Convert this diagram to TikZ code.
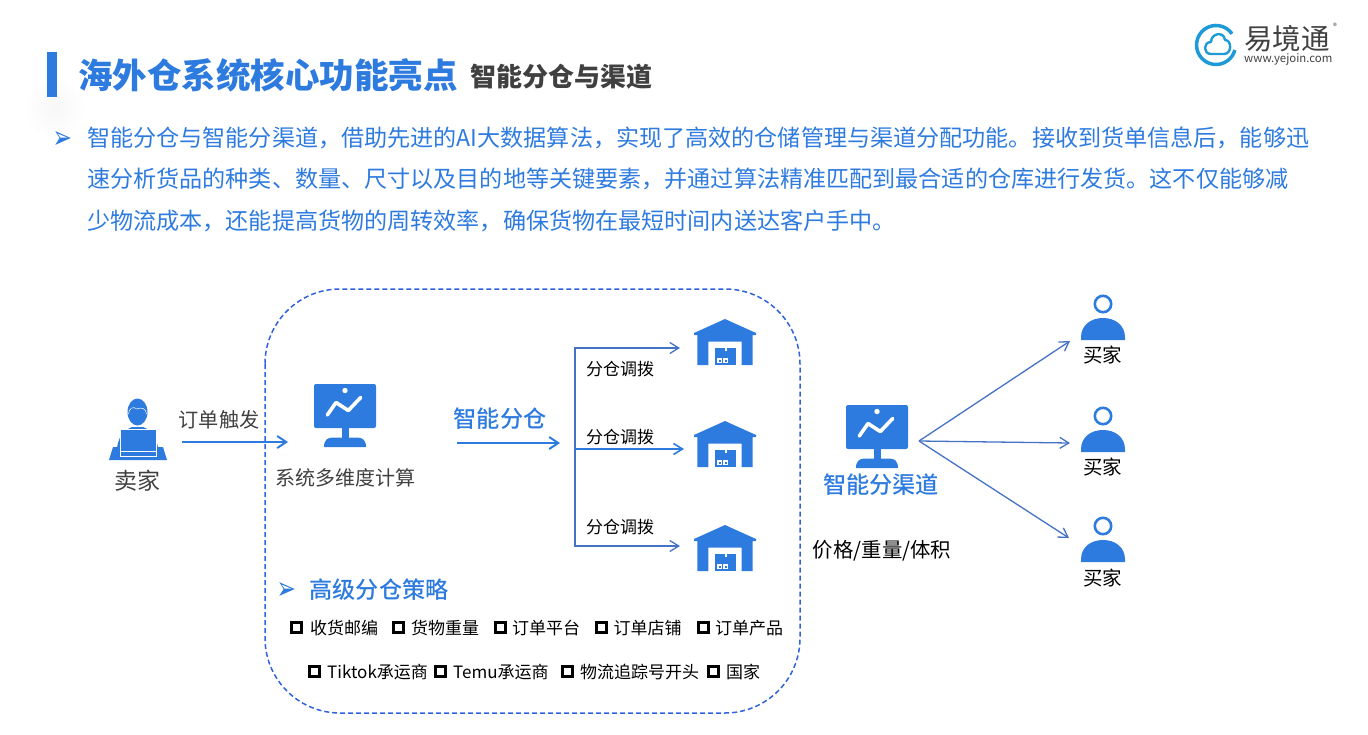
\documentclass[tikz,border=0pt]{standalone}
\usepackage{fontspec}
\setmainfont{Noto Sans CJK SC}
\newfontfamily\medfont{Noto Sans CJK SC Medium}
\usetikzlibrary{arrows.meta}
\definecolor{mainblue}{HTML}{2E7BE0}
\definecolor{linkblue}{HTML}{4472C4}
\definecolor{frameblue}{HTML}{2F63E0}
\definecolor{logoblue}{HTML}{1E9BD7}
\definecolor{darktext}{HTML}{404040}
\newcommand{\fsize}[1]{\fontsize{#1}{#1}\selectfont}
\tikzset{
  txt/.style={inner sep=0pt,text=black},
  bodyline/.style={txt,anchor=west,text=mainblue,font=\fsize{23.1}},
  bluehead/.style={txt,text=mainblue,font=\fsize{23.2}\medfont},
  dispatch/.style={txt,font=\fsize{17}},
  buyerlabel/.style={txt,font=\fsize{19.5}},
  strategy/.style={txt,anchor=west,font=\fsize{17}},
  icon/.style={inner sep=0pt,minimum width=62,minimum height=46},
  link/.style={-{Straight Barb[length=9,width=11]},linkblue,line width=1.3},
  mainlink/.style={-{Straight Barb[length=9,width=12]},mainblue,line width=2},
  tickbox/.pic={\draw[black,line width=3] (-5,-5) rectangle (5,5);},
  bullet/.pic={
    \fill[mainblue] (-9,-8)--(9,0)--(-9,8)--(-4,0)--cycle;
    \fill[white] (-6,-5)--(5,-.5)--(-3,-.5)--cycle;
  },
  monitor/.pic={
    \fill[mainblue,rounded corners=2] (-31,-31.5) rectangle (31,12.5);
    \fill[mainblue] (-3.5,12)rectangle(3.5,23);
    \fill[mainblue] (-21,31.5) .. controls (-21,24) and (-17,22) .. (-12,22)--(12,22) .. controls (17,22) and (21,24) .. (21,31.5)--cycle;
    \fill[white] (0,-25) circle(2.7);
    \draw[white,line width=3.6,line cap=round,line join=round] (-17.7,-.5)--(-9,-13)--(3.3,-5)--(15.7,-18);
  },
  warehouse/.pic={
    \fill[mainblue] (0,0)--(31,14)--(31,16)--(27.7,16)--(27.7,46)--(16.7,46)--(16.7,22.7)--(-16.7,22.7)--(-16.7,46)--(-27.7,46)--(-27.7,16)--(-31,16)--(-31,14)--cycle;
    \fill[mainblue] (-9.7,29) rectangle (11,46);
    \fill[white] (-.5,29) rectangle (2,32);
    \fill[white] (-8,39) rectangle (-3,44);
    \fill[white] (-2,39) rectangle (3,44);
    \fill[mainblue] (-6.5,40.5) rectangle (-4.5,42.5);
    \fill[mainblue] (-.5,40.5) rectangle (1.5,42.5);
  },
  buyer/.pic={
    \draw[mainblue,line width=2.6] (0,0) circle(8.2);
    \fill[mainblue] (-22,33.5) .. controls (-22,21) and (-12,14) .. (0,14) .. controls (12,14) and (22,21) .. (22,33.5) -- (22,36)--(-22,36)--cycle;
  },
}
\begin{document}
\begin{tikzpicture}[x=1pt,y=-1pt]
\useasboundingbox (0,0) rectangle (1368,734);

% heading
\shade[inner color=black!3,outer color=white] (55,108) circle(32);
\fill[mainblue] (47,52) rectangle (57,97);
\node (title) at (78,75)[txt,anchor=west,text=mainblue,font=\fsize{34.5}\bfseries]{海外仓系统核心功能亮点};
\node (subtitle) at (470,77)[txt,anchor=west,text=darktext,font=\fsize{26}\bfseries]{智能分仓与渠道};

% logo
\draw[logoblue,line width=3.5] (1232,33.8) arc (-35:-345:19.5);
\draw[logoblue,line width=2.4,line join=round] (1211,54) .. controls (1203,54) and (1203,42) .. (1211,42) .. controls (1211,33) and (1224,31) .. (1225,40) .. controls (1232,40) and (1232,54) .. (1224,54) -- cycle;
\node (logoname) at (1244,39)[txt,anchor=west,text=darktext,font=\fsize{28.5}]{易境通};
\node (logourl) at (1244,59)[txt,anchor=west,text=darktext,font=\fsize{11.4}]{www.yejoin.com};
\node (logomark) at (1335,26)[txt,text=darktext,font=\fsize{8}]{®};

% intro text
\pic at (63,138) [scale=.85] {bullet};
\node (introa) at (87,138)[bodyline]{智能分仓与智能分渠道，借助先进的AI大数据算法，实现了高效的仓储管理与渠道分配功能。接收到货单信息后，能够迅};
\node (introb) at (87,179)[bodyline]{速分析货品的种类、数量、尺寸以及目的地等关键要素，并通过算法精准匹配到最合适的仓库进行发货。这不仅能够减};
\node (introc) at (87,221)[bodyline]{少物流成本，还能提高货物的周转效率，确保货物在最短时间内送达客户手中。};

% seller
\fill[mainblue] (113,447)--(163,447)--(167,460)--(109,460)--cycle;
\fill[mainblue] (117,448) .. controls (119,433) and (127,429) .. (132,427)--(143,427) .. controls (149,429) and (156,433) .. (158,448)--cycle;
\fill[mainblue] (137.5,412) ellipse (10 and 13.5);
\draw[white,line width=.5] (128.5,414) .. controls (129,408) and (133,406) .. (137,409) .. controls (141,407) and (146,408) .. (146.5,414);
\draw[white,line width=.5,fill=mainblue] (120,429) rectangle (156,456);
\draw[white,line width=.5] (120,451.5)--(156,451.5);
\node (sellerlabel) at (137.5,481)[txt,text=darktext,font=\fsize{23}]{卖家};

% first system
\coordinate (orderin) at (182,442);
\node (calcbox) at (345,415.5)[icon]{};
\pic at (calcbox) {monitor};
\coordinate (calcin) at (288,442);
\draw[mainlink] (orderin)--(calcin);
\node (orderlabel) at (219,419.5)[txt,text=darktext,font=\fsize{20.2}]{订单触发};
\node (calclabel) at (345,478)[txt,text=darktext,font=\fsize{20}]{系统多维度计算};

% dashed frame
\draw[frameblue,line width=1.5,dash pattern=on 5pt off 3pt,rounded corners=75] (265,289) rectangle (800,713);

\node (splitlabel) at (500,419)[bluehead]{智能分仓};
\coordinate (splitout) at (457,443);
\coordinate (splitin) at (560,443);
\draw[mainlink] (splitout)--(splitin);

% warehouses
\coordinate (branch) at (575,449);
\coordinate (ina) at (680,348);
\coordinate (inb) at (684,449);
\coordinate (inc) at (680,546);
\draw[link] (branch)--(branch|-ina)--(ina);
\draw[link] (branch)--(branch|-inc)--(inc);
\draw[-{Straight Barb[length=9,width=11]},mainblue,line width=1.6] (branch)--(inb);
\foreach \n/\y/\ly in {a/319/369,b/421/437,c/525/527}{
  \node (house\n) at (725,\y+23)[icon]{};
  \pic at (725,\y) {warehouse};
  \node (dispatch\n) at (620,\ly)[dispatch]{分仓调拨};
}

% strategies
\pic at (287,589) [scale=.85] {bullet};
\node (strategyhead) at (379,590)[bluehead]{高级分仓策略};
\foreach \n/\x/\tx/\t in {a/296/310/收货邮编,b/398/411/货物重量,c/500/512/订单平台,d/601/613.5/订单店铺,e/703/715/订单产品}{
  \pic at (\x,627) {tickbox};
  \node (toprow\n) at (\tx,628)[strategy]{\t};
}
\foreach \n/\x/\t in {a/314/Tiktok承运商,b/440/Temu承运商,c/567/物流追踪号开头,d/713/国家}{
  \pic at (\x,671) {tickbox};
  \node (lowrow\n) at (\x+13,672)[strategy]{\t};
}

% channel system
\node (channelbox) at (877,436.5)[icon]{};
\pic at (channelbox) {monitor};
\node (channelhead) at (881,485)[bluehead]{智能分渠道};
\node (channelnote) at (882,551)[txt,text=black,font=\fsize{20.4}]{价格/重量/体积};
\coordinate (fan) at (919,441);
\coordinate (buyerina) at (1070,341);
\coordinate (buyerinb) at (1070,443);
\coordinate (buyerinc) at (1069,538);
\draw[link] (fan)--(buyerina);
\draw[link] (fan)--(buyerinb);
\draw[link] (fan)--(buyerinc);

% buyers
\foreach \n/\y/\ly in {a/304/355,b/416/467,c/526/578}{
  \pic at (1103,\y) {buyer};
  \node (buyer\n) at (1102.5,\ly)[buyerlabel]{买家};
}
\end{tikzpicture}
\end{document}
